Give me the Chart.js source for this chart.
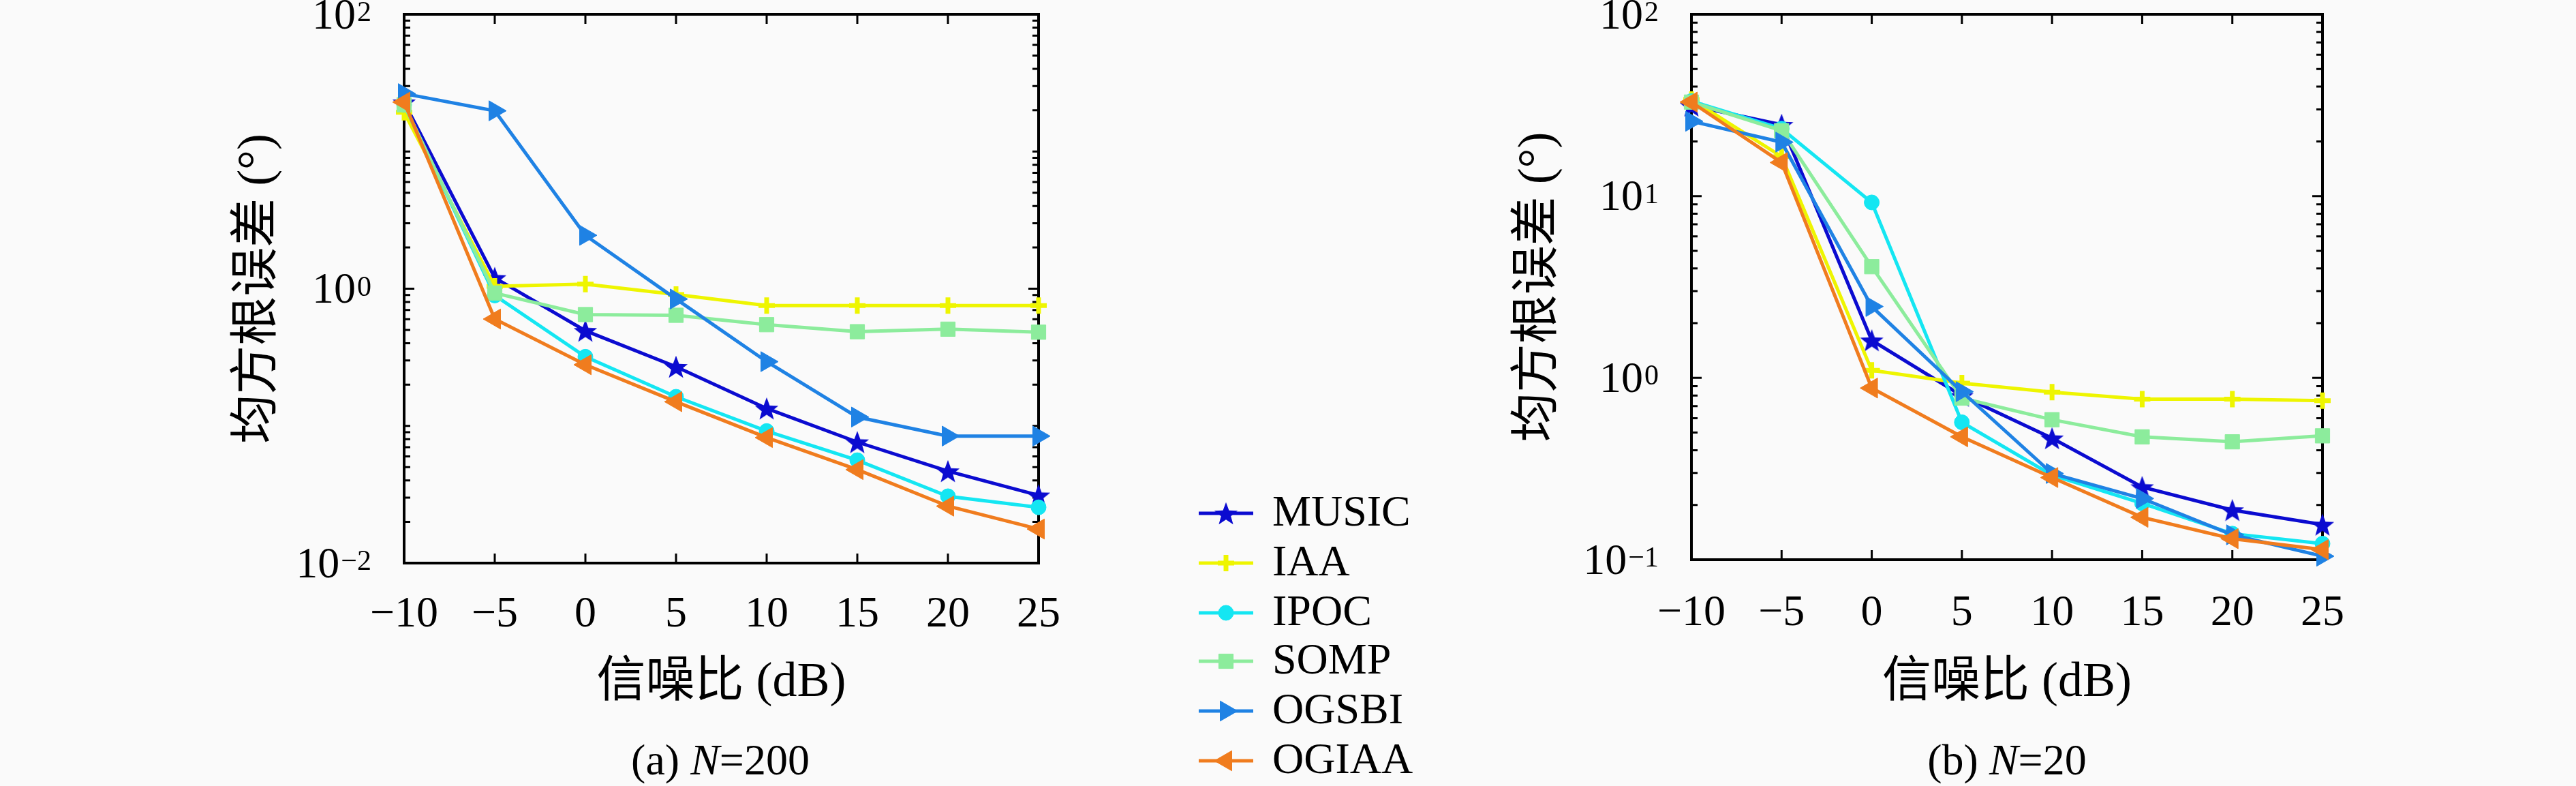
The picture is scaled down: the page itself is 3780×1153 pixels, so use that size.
<!DOCTYPE html>
<html lang="zh">
<head>
<meta charset="UTF-8">
<title>均方根误差 - 信噪比</title>
<script src="https://cdn.jsdelivr.net/npm/chart.js"></script>
<style>
  body { margin: 0; background: #fafafa; }
  #wrap { position: relative; width: 3780px; height: 1153px; overflow: hidden; }
  canvas.plot { position: absolute; top: 0; }
  .cap { position: absolute; width: 600px; text-align: center; font: 64px 'Liberation Serif', serif; line-height: 70px; color: #000; }
  .row { position: absolute; left: 1755px; height: 80px; line-height: 80px; font: 64px 'Liberation Serif', serif; color: #000; }
  .row canvas { position: absolute; left: 0; top: 20px; }
  .row span { position: absolute; left: 112px; top: 0; white-space: nowrap; }
</style>
</head>
<body>
<div id="wrap">
  <canvas id="chartA" class="plot" width="1720" height="1153" style="left:0"></canvas>
  <canvas id="chartB" class="plot" width="1680" height="1153" style="left:2100px"></canvas>
  <div id="legend"></div>
  <div class="cap" style="left:757px; top:1080px">(a) <i>N</i>=200</div>
  <div class="cap" style="left:2645px; top:1080px">(b) <i>N</i>=20</div>
</div>

<script>
// Données
const snrDb = [-10, -5, 0, 5, 10, 15, 20, 25];
const methods = ["MUSIC", "IAA", "IPOC", "SOMP", "OGSBI", "OGIAA"];

// (a) N=200
const musicA = [22.9, 1.20, 0.494, 0.270, 0.134, 0.0762, 0.0468, 0.0312];
const iaaA   = [19.3, 1.04, 1.08, 0.908, 0.754, 0.754, 0.754, 0.754];
const ipocA  = [21.9, 0.893, 0.319, 0.163, 0.0917, 0.0562, 0.0307, 0.0255];
const sompA  = [21.9, 0.93, 0.648, 0.640, 0.547, 0.486, 0.507, 0.482];
const ogsbiA = [26.4, 19.8, 2.45, 0.841, 0.294, 0.116, 0.0843, 0.0843];
const ogiaaA = [22.9, 0.601, 0.279, 0.150, 0.0822, 0.048, 0.026, 0.0177];

// (b) N=20
const musicB = [31.5, 24.7, 1.61, 0.798, 0.466, 0.251, 0.1875, 0.156];
const iaaB   = [34.0, 16.5, 1.10, 0.936, 0.835, 0.764, 0.764, 0.75];
const ipocB  = [33.3, 23.5, 9.23, 0.570, 0.292, 0.204, 0.139, 0.1225];
const sompB  = [32.9, 22.9, 4.09, 0.774, 0.589, 0.474, 0.445, 0.48];
const ogsbiB = [25.8, 19.8, 2.47, 0.84, 0.298, 0.217, 0.137, 0.1045];
const ogiaaB = [32.9, 15.3, 0.879, 0.474, 0.283, 0.171, 0.1305, 0.1135];

const colors = ["#0b0bd0", "#eef500", "#14e6f2", "#8cec9c", "#1f82e4", "#f07c1e"];

const SERIF = "'Liberation Serif', 'Noto Sans CJK SC', serif";

// étoile pleine pour MUSIC
function starImage(color, r) {
    const s = Math.ceil(r * 2 + 4);
    const c = document.createElement("canvas");
    c.width = c.height = s;
    const g = c.getContext("2d");
    g.translate(s / 2, s / 2 + r * 0.1);
    g.beginPath();
    for (let i = 0; i < 10; i++) {
        const rad = i % 2 ? r * 0.42 : r;
        const ang = -Math.PI / 2 + i * Math.PI / 5;
        g.lineTo(rad * Math.cos(ang), rad * Math.sin(ang));
    }
    g.closePath();
    g.fillStyle = color;
    g.fill();
    return c;
}

const star = starImage(colors[0], 18);
const markers = [
    { style: star, radius: 14, rot: 0, bw: 1 },
    { style: "cross", radius: 12, rot: 0, bw: 7 },
    { style: "circle", radius: 11, rot: 0, bw: 1 },
    { style: "rect", radius: 15, rot: 0, bw: 1 },
    { style: "triangle", radius: 17, rot: 90, bw: 1 },
    { style: "triangle", radius: 17, rot: -90, bw: 1 }
];

function buildDatasets(series) {
    return series.map((vals, i) => ({
        label: methods[i],
        data: snrDb.map((x, k) => ({ x: x, y: vals[k] })),
        borderColor: colors[i],
        backgroundColor: colors[i],
        borderWidth: 5,
        pointStyle: markers[i].style,
        pointRadius: markers[i].radius,
        pointRotation: markers[i].rot,
        pointBorderWidth: markers[i].bw,
        pointBackgroundColor: colors[i],
        pointBorderColor: colors[i],
        order: 5 - i,
        clip: false,
        tension: 0
    }));
}

// cadre, graduations vers l'intérieur et étiquettes 10^n
const frame = {
    id: "frame",
    beforeDatasetsDraw(chart, args, opts) {
        const { ctx, chartArea: a, scales: { x, y } } = chart;
        const step = opts.labelStep || 1;
        ctx.save();
        ctx.strokeStyle = "#000";
        ctx.lineWidth = 4;
        ctx.strokeRect(a.left, a.top, a.right - a.left, a.bottom - a.top);
        ctx.lineWidth = 3;
        ctx.beginPath();
        snrDb.forEach(v => {
            const px = x.getPixelForValue(v);
            ctx.moveTo(px, a.bottom); ctx.lineTo(px, a.bottom - 14);
            ctx.moveTo(px, a.top); ctx.lineTo(px, a.top + 14);
        });
        const e0 = Math.round(Math.log10(y.min)), e1 = Math.round(Math.log10(y.max));
        for (let e = e0; e <= e1; e++) {
            for (let m = 1; m <= 9; m++) {
                const v = m * Math.pow(10, e);
                if (v > y.max * 1.0001) break;
                const py = y.getPixelForValue(v);
                const len = (m === 1 && (e - e0) % step === 0) ? 15 : 9;
                ctx.moveTo(a.left, py); ctx.lineTo(a.left + len, py);
                ctx.moveTo(a.right, py); ctx.lineTo(a.right - len, py);
            }
        }
        ctx.stroke();
        ctx.restore();
    },
    afterDraw(chart, args, opts) {
        const { ctx, chartArea: a, scales: { y } } = chart;
        const step = opts.labelStep || 1;
        const e0 = Math.round(Math.log10(y.min)), e1 = Math.round(Math.log10(y.max));
        ctx.save();
        ctx.fillStyle = "#000";
        ctx.textAlign = "right";
        for (let e = e0; e <= e1; e += step) {
            const py = y.getPixelForValue(Math.pow(10, e));
            const right = a.left - 48;
            const exp = e < 0 ? "\u2212" + Math.abs(e) : String(e);
            ctx.font = "42px " + SERIF;
            ctx.textBaseline = "alphabetic";
            const w = ctx.measureText(exp).width;
            ctx.fillText(exp, right, py + 10);
            ctx.font = "64px " + SERIF;
            ctx.textBaseline = "middle";
            ctx.fillText("10", right - w - 2, py + 4);
        }
        ctx.restore();
    }
};

function makeChart(id, series, yMin, labelStep, pad, yWidth, xHeight, tickPad) {
    return new Chart(document.getElementById(id), {
        type: "line",
        data: { datasets: buildDatasets(series) },
        options: {
            responsive: false,
            animation: false,
            devicePixelRatio: 1,
            layout: { padding: pad },
            plugins: {
                legend: { display: false },
                tooltip: { enabled: false },
                frame: { labelStep: labelStep }
            },
            scales: {
                x: {
                    type: "linear", min: -10, max: 25,
                    grid: { display: false, drawTicks: false },
                    border: { display: false },
                    ticks: {
                        stepSize: 5, padding: tickPad, color: "#000",
                        font: { family: SERIF, size: 64 },
                        maxRotation: 0,
                        callback: v => (v < 0 ? "\u2212" + Math.abs(v) : String(v))
                    },
                    title: { display: true, text: "信噪比 (dB)", color: "#000", padding: 0,
                             font: { family: SERIF, size: 72 } },
                    afterFit: s => { s.height = xHeight; }
                },
                y: {
                    type: "logarithmic", min: yMin, max: 100,
                    grid: { display: false, drawTicks: false },
                    border: { display: false },
                    ticks: { display: false },
                    title: { display: true, text: "均方根误差 (°)", color: "#000", padding: 0,
                             font: { family: SERIF, size: 72 } },
                    afterFit: s => { s.width = yWidth; }
                }
            }
        },
        plugins: [frame]
    });
}

makeChart("chartA", [musicA, iaaA, ipocA, sompA, ogsbiA, ogiaaA], 0.01, 2,
    { left: 336, right: 196, top: 21, bottom: 108 }, 257, 219, 38);
makeChart("chartB", [musicB, iaaB, ipocB, sompB, ogsbiB, ogiaaB], 0.1, 1,
    { left: 115, right: 372, top: 21, bottom: 108 }, 267, 224, 41);

// légende commune
const legendTops = [753, 826, 899, 970, 1043, 1116];
const legend = document.getElementById("legend");
methods.forEach((name, i) => {
    const row = document.createElement("div");
    row.className = "row";
    row.style.top = (legendTops[i] - 40) + "px";
    const c = document.createElement("canvas");
    c.width = 90; c.height = 40;
    const g = c.getContext("2d");
    g.strokeStyle = colors[i];
    g.fillStyle = colors[i];
    g.lineWidth = 5;
    g.beginPath(); g.moveTo(4, 20); g.lineTo(84, 20); g.stroke();
    g.lineWidth = markers[i].bw;
    Chart.helpers.drawPoint(g, {
        pointStyle: markers[i].style, radius: markers[i].radius,
        rotation: markers[i].rot, borderWidth: markers[i].bw
    }, 44, 20);
    const span = document.createElement("span");
    span.textContent = name;
    row.appendChild(c);
    row.appendChild(span);
    legend.appendChild(row);
});
</script>
</body>
</html>
